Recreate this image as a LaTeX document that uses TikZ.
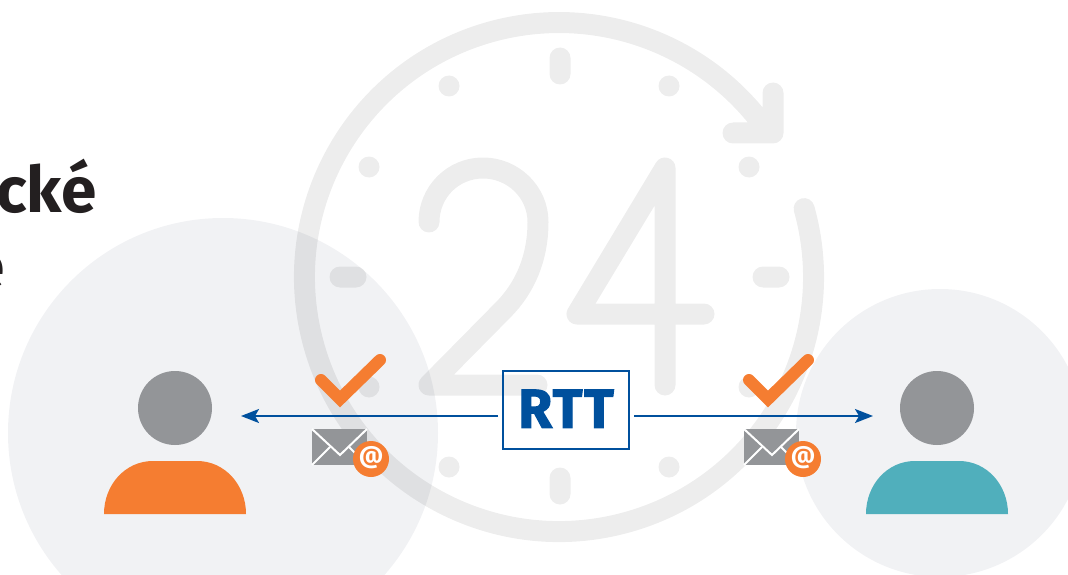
\documentclass[tikz,border=0pt]{standalone}
\usepackage{fontspec}
\setmainfont{Fira Sans}
\newfontfamily\rttfont{Fira Sans}[BoldFeatures={FakeBold=2,LetterSpace=3}]
\usetikzlibrary{arrows.meta}

\definecolor{rttblue}{HTML}{00509D}
\definecolor{iconorange}{HTML}{F57D31}
\definecolor{iconteal}{HTML}{50AFBC}
\definecolor{icongray}{HTML}{939598}
\definecolor{discgray}{HTML}{F1F2F4}
\definecolor{titleblack}{HTML}{231F20}

\tikzset{
    disc/.style={fill=discgray},
    clockline/.style={draw=black, opacity=0.07, line width=21pt, line cap=round, line join=round},
    tickmark/.style={draw=iconorange, line width=12pt, line cap=round, miter limit=10},
    rttarrow/.style={draw=rttblue, line width=2pt, -{Stealth[length=18pt, width=14pt, inset=4pt]}},
    titletext/.style={font=\fontsize{64}{64}\selectfont\bfseries, text=titleblack, inner sep=0pt}
}

\begin{document}
\begin{tikzpicture}[x=1pt, y=-1pt]
    \path[use as bounding box, clip] (0,0) rectangle (1068,575);

    \node[titletext, anchor=base east] (titleone) at (97,212) {cké};
    \node[titletext, anchor=base east] (titletwo) at (5,288) {e};

    \fill[disc] (223,433) circle (215);
    \fill[disc] (940,433) circle (144);

    % clock face with its 24
    \draw[clockline]
    (804.1,208.6) arc[start angle=15.6, end angle=-325.5, radius=254.5pt]
    (773,93) -- (773,133) -- (733,133)
    (560,58) -- (560,74)
    (560,478) -- (560,494)
    (340,277) -- (356,277)
    (763,277) -- (779,277)
    \foreach \x/\y in {
        449/86, 669/86,
        369/167, 749/167,
        369/387, 749/387,
        449/467, 669/467
    }{
        (\x,\y) -- ++(0.01,0)
    }
    (429,222) .. controls (429,192) and (453,168) .. (483,168)
    .. controls (513,168) and (538,192) .. (538,222)
    .. controls (538,258) and (525,288) .. (503,310)
    -- (429,385) -- (537,385)
    (704,314) -- (577,314) -- (665,168) -- (665,385);

    % persons
    \fill[icongray] (175,408) circle (37);
    \fill[icongray] (937,408) circle (37);
    \fill[iconorange] (104,514) .. controls (104,485) and (125,461) .. (153,461)
    -- (197,461) .. controls (225,461) and (246,485) .. (246,514) -- cycle;
    \fill[iconteal] (866,514) .. controls (866,485) and (887,461) .. (915,461)
    -- (959,461) .. controls (987,461) and (1008,485) .. (1008,514) -- cycle;

    % RTT box and arrows
    \node[draw=rttblue, line width=2pt, minimum width=126pt, minimum height=78pt,
        inner sep=0pt, outer sep=5pt, text=rttblue,
        font=\rttfont\fontsize{55}{55}\selectfont\bfseries] (rtt) at (566,410) {\raisebox{2.5pt}{RTT}};
    \coordinate (userleft) at (241,416);
    \coordinate (userright) at (873,416);
    \draw[rttarrow] (rtt.west |- userleft) -- (userleft);
    \draw[rttarrow] (rtt.east |- userright) -- (userright);

    \foreach \dx in {0,428}{
        \draw[tickmark, xshift=\dx] (321,380) -- (340,399) -- (380,360);
    }

    % mail icons
    \foreach \dx in {0,432}{
        \begin{scope}[xshift=\dx]
            \fill[icongray] (312,429) rectangle (367,465);
            \draw[white, line width=2pt] (312,429) -- (340,455) -- (367,429);
            \draw[white, line width=2pt] (312,465) -- (330,447);
            \draw[white, line width=2pt] (367,465) -- (349,447);
            \fill[iconorange] (371,459) circle (18);
            \node[text=white, font=\fontsize{24}{24}\selectfont\bfseries, inner sep=0pt] (at\dx) at (371,458) {@};
        \end{scope}
    }
\end{tikzpicture}
\end{document}
